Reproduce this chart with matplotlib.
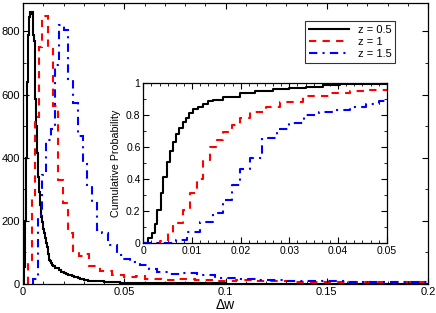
import numpy as np
import matplotlib
matplotlib.use("Agg")
import matplotlib.pyplot as plt
from matplotlib.ticker import MultipleLocator

plt.rcParams.update({
    "font.family": ["Liberation Sans", "DejaVu Sans"],
    "font.size": 8,
    "xtick.direction": "in",
    "ytick.direction": "in",
    "xtick.top": True,
    "ytick.right": True,
    "xtick.major.size": 4,
    "ytick.major.size": 4,
    "xtick.minor.size": 2.2,
    "ytick.minor.size": 2.2,
    "axes.linewidth": 0.9,
})

# ---- main histograms ----
black_edges = np.concatenate([
    np.linspace(0, 0.015, 31)[:-1],
    np.linspace(0.015, 0.030, 16)[:-1],
    np.linspace(0.030, 0.050, 11)[:-1],
    np.linspace(0.050, 0.200, 16),
])
black_vals = [0, 55, 200, 400, 640, 790, 845, 861, 855, 862,
              790, 770, 585, 500, 415, 340, 290, 250, 213, 195,
              175, 160, 145, 130, 118, 95, 77, 72, 66, 60,
              57, 52, 50, 45, 38, 35, 33, 30, 28, 25, 23, 21, 19, 17, 15,
              13, 11, 10, 9, 8, 7, 6, 5, 5, 4,
              3, 3, 2, 2, 2, 1, 1, 1, 1, 1, 1, 0, 1, 0, 0]

red_edges = [0.0025, 0.0043, 0.0060, 0.0077, 0.0096, 0.0125, 0.0150, 0.0172,
             0.0195, 0.0222, 0.0245, 0.0275, 0.0300, 0.0325, 0.0380, 0.0440,
             0.0500, 0.0560, 0.0600, 0.0680, 0.0750, 0.0850, 0.0950, 0.1050,
             0.1150, 0.1250, 0.1350, 0.1500, 0.1650, 0.1800, 0.2000]
red_vals = [66, 277, 528, 752, 849, 743, 563, 330, 258, 163, 105, 88, 95, 58,
            42, 30, 22, 25, 15, 12, 15, 12, 10, 12, 8, 10, 7, 6, 7, 5]

blue_edges = [0.0050, 0.0072, 0.0092, 0.0113, 0.0136, 0.0158, 0.0180, 0.0200,
              0.0224, 0.0249, 0.0273, 0.0294, 0.0314, 0.0339, 0.0364, 0.0389,
              0.0421, 0.0463, 0.0495, 0.0530, 0.0580, 0.0620, 0.0660, 0.0720,
              0.0780, 0.0860, 0.0950, 0.1050, 0.1150, 0.1300, 0.1450, 0.1600,
              0.1800, 0.2000]
blue_vals = [15, 218, 345, 455, 490, 695, 820, 806, 648, 573, 470, 380, 309,
             256, 171, 160, 124, 92, 80, 70, 60, 48, 38, 32, 36, 28, 18, 15,
             12, 10, 8, 6, 5]

# ---- inset cumulative probability ----
cdf_black_x = [0.0, 0.0010, 0.0017, 0.0024, 0.0029, 0.0036, 0.0041, 0.0048,
               0.0055, 0.0060, 0.0067, 0.0074, 0.0081, 0.0087, 0.0094, 0.0102,
               0.0113, 0.0123, 0.0133, 0.0143, 0.0164, 0.0198, 0.0230, 0.0266,
               0.0300, 0.0335, 0.0370, 0.0403, 0.0450, 0.0500]
cdf_black_y = [0.0, 0.03, 0.06, 0.117, 0.206, 0.31, 0.414, 0.504,
               0.575, 0.633, 0.68, 0.72, 0.754, 0.78, 0.81, 0.835,
               0.85, 0.868, 0.885, 0.895, 0.915, 0.935, 0.948, 0.96,
               0.968, 0.977, 0.985, 0.992, 0.996, 0.996]

cdf_red_x = [0.0, 0.0034, 0.0051, 0.0062, 0.0082, 0.0096, 0.0110, 0.0123,
             0.0137, 0.0151, 0.0164, 0.0182, 0.0199, 0.0219, 0.0253, 0.0280,
             0.0328, 0.0383, 0.0424, 0.0461, 0.0500]
cdf_red_y = [0.0, 0.01, 0.06, 0.125, 0.206, 0.31, 0.40, 0.52,
             0.60, 0.645, 0.695, 0.735, 0.78, 0.82, 0.85, 0.88,
             0.92, 0.935, 0.95, 0.956, 0.956]

cdf_blue_x = [0.0, 0.0068, 0.0089, 0.0116, 0.0144, 0.0164, 0.0182, 0.0199,
              0.0219, 0.0243, 0.0275, 0.0300, 0.0330, 0.0360, 0.0390, 0.0424,
              0.0457, 0.0485, 0.0500]
cdf_blue_y = [0.0, 0.02, 0.07, 0.13, 0.185, 0.27, 0.36, 0.46,
              0.53, 0.655, 0.71, 0.75, 0.80, 0.82, 0.83, 0.85,
              0.87, 0.89, 0.89]

labels = ["z = 0.5", "z = 1", "z = 1.5"]
colors = ["black", "#ff0000", "#0000ff"]
dashes = ["-", (0, (3.5, 3)), (0, (4, 2.5, 1, 2.5))]
lw = 1.5

fig = plt.figure(figsize=(4.36, 3.13), dpi=100)
ax = fig.add_axes([0.0528, 0.0927, 0.9289, 0.8977])

for vals, edges, c, ls, lab in zip([black_vals, red_vals, blue_vals],
                                   [black_edges, red_edges, blue_edges],
                                   colors, dashes, labels):
    ax.stairs(vals, edges, baseline=0, color=c, linestyle=ls, linewidth=lw,
              label=lab)

ax.set_xlim(0, 0.2)
ax.set_ylim(0, 890)
ax.set_xticks([0, 0.05, 0.1, 0.15, 0.2])
ax.set_xticklabels(["0", "0.05", "0.1", "0.15", "0.2"])
ax.set_yticks([0, 200, 400, 600, 800])
ax.xaxis.set_minor_locator(MultipleLocator(0.01))
ax.yaxis.set_minor_locator(MultipleLocator(100))
ax.tick_params(axis="both", which="both", pad=2, labelsize=8)
ax.set_xlabel("\u0394w", fontsize=10, labelpad=1)

leg = ax.legend(loc="upper left", bbox_to_anchor=(0.696, 0.936),
                fontsize=8, handlelength=3.6, frameon=True, fancybox=False,
                borderpad=0.35, labelspacing=0.2, handletextpad=0.8,
                borderaxespad=0)
leg.get_frame().set_edgecolor("black")
leg.get_frame().set_linewidth(0.8)

# inset
axi = fig.add_axes([0.3287, 0.2236, 0.5583, 0.5112])
for xs, ys, c, ls in zip([cdf_black_x, cdf_red_x, cdf_blue_x],
                         [cdf_black_y, cdf_red_y, cdf_blue_y],
                         colors, dashes):
    axi.step(xs, ys, where="post", color=c, linestyle=ls, linewidth=lw)
axi.set_xlim(0, 0.05)
axi.set_ylim(0, 1)
axi.set_xticks([0, 0.01, 0.02, 0.03, 0.04, 0.05])
axi.set_xticklabels(["0", "0.01", "0.02", "0.03", "0.04", "0.05"])
axi.set_yticks([0, 0.2, 0.4, 0.6, 0.8, 1])
axi.set_yticklabels(["0", "0.2", "0.4", "0.6", "0.8", "1"])
axi.xaxis.set_minor_locator(MultipleLocator(0.01 / 6))
axi.yaxis.set_minor_locator(MultipleLocator(0.1))
axi.tick_params(axis="both", which="both", pad=2, labelsize=7.5)
axi.set_ylabel("Cumulative Probability", fontsize=7.7, labelpad=3.5)

fig.savefig("out.png", dpi=100)
